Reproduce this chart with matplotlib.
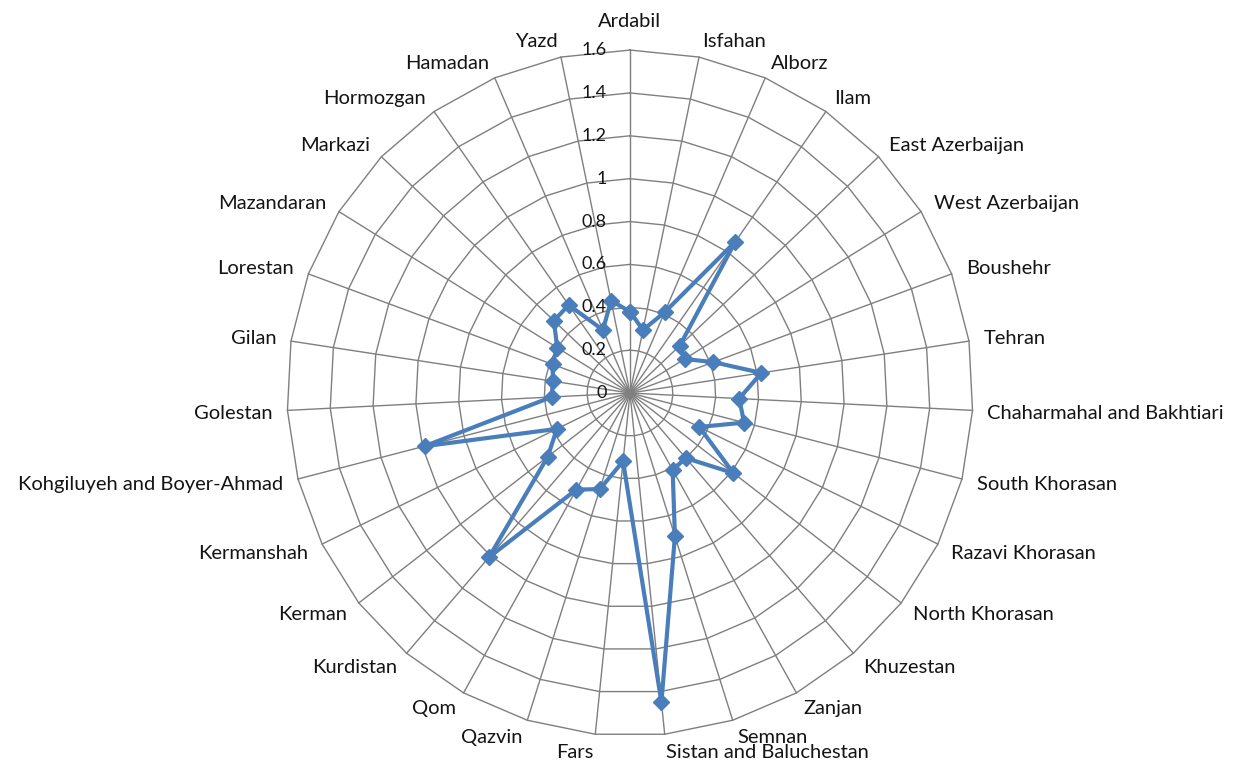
import matplotlib
matplotlib.use("Agg")
import matplotlib.pyplot as plt
import numpy as np

plt.rcParams["font.family"] = ["Lato", "DejaVu Sans"]

provinces = ["Ardabil", "Isfahan", "Alborz", "Ilam", "East Azerbaijan",
             "West Azerbaijan", "Boushehr", "Tehran", "Chaharmahal and Bakhtiari",
             "South Khorasan", "Razavi Khorasan", "North Khorasan", "Khuzestan",
             "Zanjan", "Semnan", "Sistan and Baluchestan", "Fars", "Qazvin", "Qom",
             "Kurdistan", "Kerman", "Kermanshah", "Kohgiluyeh and Boyer-Ahmad",
             "Golestan", "Gilan", "Lorestan", "Mazandaran", "Markazi", "Hormozgan",
             "Hamadan", "Yazd"]
values = [0.38, 0.30, 0.41, 0.86, 0.32,
          0.30, 0.415, 0.62, 0.51,
          0.55, 0.36, 0.61, 0.40,
          0.41, 0.70, 1.45, 0.32, 0.47, 0.515,
          1.01, 0.485, 0.38, 0.99,
          0.366, 0.364, 0.385, 0.40, 0.49, 0.50,
          0.32, 0.44]
rings = [0.2, 0.4, 0.6, 0.8, 1.0, 1.2, 1.4, 1.6]
tick_values = [0, 0.2, 0.4, 0.6, 0.8, 1.0, 1.2, 1.4, 1.6]

blue = "#4a7ebb"
grid = "#7f7f7f"
text_col = "#141414"

n = len(provinces)
theta = np.arange(n) * 2 * np.pi / n
theta_closed = np.append(theta, theta[0])

fig = plt.figure(figsize=(12.36, 7.63), dpi=100)
ax = fig.add_axes([0.2322, 0.0354, 0.555, 0.899], projection="polar")
ax.set_theta_zero_location("N")
ax.set_theta_direction(-1)
ax.set_ylim(0, 1.6)
ax.grid(False)
ax.spines["polar"].set_visible(False)
ax.set_xticks([])
ax.set_yticks([])
ax.patch.set_visible(False)

# web grid: straight-edged rings and spokes
for r in rings:
    ax.plot(theta_closed, [r] * (n + 1), color=grid, lw=1.0, clip_on=False, zorder=1)
for t in theta:
    ax.plot([t, t], [0, 1.6], color=grid, lw=1.0, clip_on=False, zorder=1)

# series
ax.plot(theta_closed, values + values[:1], color=blue, lw=3, marker="D",
        markersize=8.5, clip_on=False, zorder=3)

# value labels along the vertical axis
for v in tick_values:
    ax.annotate(f"{round(v, 1):g}", xy=(0, v), xytext=(-23, 0),
                textcoords="offset pixels", ha="right", va="center",
                fontsize=13, color=text_col, annotation_clip=False)

# category labels
for t, name in zip(theta, provinces):
    s, c = np.sin(t), np.cos(t)
    if abs(s) < 0.05:
        off = (0, 20 if c > 0 else -20)
        ha, va = "center", ("bottom" if c > 0 else "top")
    else:
        off = (15 * s, 16 * c - (2 if c < 0 else 0))
        ha, va = ("left" if s > 0 else "right"), "center"
    ax.annotate(name, xy=(t, 1.6), xytext=off, textcoords="offset pixels",
                ha=ha, va=va, fontsize=14.5, color=text_col, annotation_clip=False)

fig.savefig("out.png", dpi=100, facecolor="white")
